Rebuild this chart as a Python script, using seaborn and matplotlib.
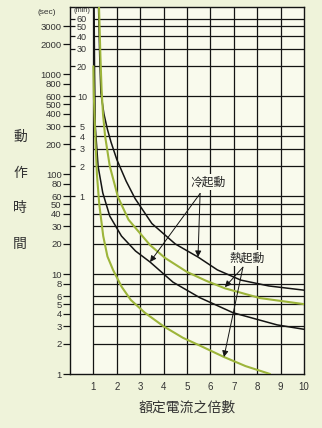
import matplotlib
matplotlib.use("Agg")
import matplotlib.pyplot as plt
from matplotlib.ticker import NullLocator, FixedLocator, FixedFormatter
import numpy as np
import pandas as pd
import seaborn as sns

# Overload relay trip curves: current multiple vs operating time (seconds)
cold_upper_x = [1.22, 1.27, 1.32, 1.45, 1.6, 1.75, 2.0, 2.4, 2.78, 3.5, 4.5, 5.47, 6.3, 7.3, 8.5, 10.0]
cold_upper_t = [4700, 1500, 650, 400, 280, 210, 140, 85, 57, 32, 20, 14.8, 11.0, 8.7, 7.6, 6.9]

hot_upper_x = [1.24, 1.3, 1.35, 1.41, 1.5, 1.7, 2.05, 2.5, 3.42, 4.06, 5.0, 5.8, 6.62, 8.12, 10.0]
hot_upper_t = [4700, 1500, 700, 400, 240, 120, 59, 35, 19.5, 14.5, 10.5, 8.6, 7.2, 5.75, 5.0]

cold_lower_x = [1.03, 1.05, 1.08, 1.2, 1.4, 1.7, 2.2, 2.8, 3.42, 4.4, 5.55, 6.97, 8.85, 10.0]
cold_lower_t = [4700, 1000, 300, 120, 65, 38, 24, 17, 13.2, 8.3, 5.8, 4.1, 3.1, 2.8]

hot_lower_x = [1.0, 1.02, 1.07, 1.15, 1.25, 1.42, 1.6, 1.84, 2.2, 2.6, 3.2, 4.0, 4.83, 5.6, 6.58, 7.5, 8.55]
hot_lower_t = [1200, 600, 275, 100, 50, 24, 15, 11, 7.5, 5.5, 4.1, 3.0, 2.3, 1.9, 1.48, 1.2, 1.0]

# Axis ticks
x_ticks = [1, 2, 3, 4, 5, 6, 7, 8, 9, 10]
sec_ticks = [1, 2, 3, 4, 5, 6, 8, 10, 20, 30, 40, 50, 60, 80, 100, 200, 300,
             400, 500, 600, 800, 1000, 2000, 3000]
min_ticks = [1, 2, 3, 4, 5, 10, 20, 30, 40, 50, 60]
sec_grid = [2, 3, 4, 5, 6, 8, 10, 20, 30, 40, 50]

BLACK = "#141414"
GREEN = "#9db53a"
FIG_BG = "#eff3da"
AX_BG = "#f9faed"

sns.set_theme(style="white")
plt.rcParams['font.family'] = ['Liberation Sans', 'DejaVu Sans']
CJK = ['Noto Sans CJK TC', 'DejaVu Sans']

frames = []
for name, xs, ts in [("cold_upper", cold_upper_x, cold_upper_t),
                     ("hot_upper", hot_upper_x, hot_upper_t),
                     ("cold_lower", cold_lower_x, cold_lower_t),
                     ("hot_lower", hot_lower_x, hot_lower_t)]:
    frames.append(pd.DataFrame({"curve": name, "x": xs, "t": ts}))
df = pd.concat(frames, ignore_index=True)

fig = plt.figure(figsize=(3.22, 4.28), dpi=100, facecolor=FIG_BG)
ax = fig.add_axes([70 / 322, 1 - 374 / 428, 234 / 322, 367 / 428])
ax.set_facecolor(AX_BG)
ax.set_yscale("log")
ax.set_xlim(0, 10)
ax.set_ylim(1, 4700)

# grid: vertical lines at each current multiple, horizontal at minute/second marks
for xv in x_ticks[:-1]:
    ax.axvline(xv, color=BLACK, lw=0.9, zorder=1)
for mv in min_ticks:
    ax.hlines(mv * 60, 1, 10, color=BLACK, lw=0.9, zorder=1)
for sv in sec_grid:
    ax.hlines(sv, 1, 10, color=BLACK, lw=0.9, zorder=1)

palette = {"cold_upper": BLACK, "cold_lower": BLACK,
           "hot_upper": GREEN, "hot_lower": GREEN}
sizes = {"cold_upper": 1.1, "cold_lower": 1.1, "hot_upper": 1.5, "hot_lower": 1.5}
sns.lineplot(data=df, x="x", y="t", hue="curve", size="curve", sizes=sizes,
             palette=palette, sort=False, estimator=None, units="curve",
             legend=False, ax=ax, zorder=3)

for s in ax.spines.values():
    s.set_color(BLACK)
    s.set_linewidth(1.0)
    s.set_visible(True)

# seconds scale on the outside of the left axis
ax.yaxis.set_major_locator(FixedLocator(sec_ticks))
ax.yaxis.set_major_formatter(FixedFormatter([str(v) for v in sec_ticks]))
ax.yaxis.set_minor_locator(NullLocator())
ax.tick_params(axis="y", which="major", direction="out", length=5, width=0.9,
               color=BLACK, pad=1, labelsize=6.8, labelcolor="#333333", left=True)

ax.set_xticks(x_ticks)
ax.set_xticklabels([str(v) for v in x_ticks])
ax.xaxis.set_minor_locator(NullLocator())
ax.tick_params(axis="x", length=0, pad=6, labelsize=7, labelcolor="#333333")
ax.set_xlabel("")
ax.set_ylabel("")

# minutes scale on the inside of the left axis
sec_ax = ax.secondary_yaxis("left", functions=(lambda s: s / 60.0, lambda m: m * 60.0))
sec_ax.yaxis.set_major_locator(FixedLocator(min_ticks))
sec_ax.yaxis.set_major_formatter(FixedFormatter([str(v) for v in min_ticks]))
sec_ax.yaxis.set_minor_locator(NullLocator())
sec_ax.tick_params(axis="y", direction="in", length=3.5, width=0.9, color=BLACK,
                   pad=-8.6, labelsize=6.5, labelcolor="#333333")
for lab in sec_ax.get_yticklabels():
    lab.set_horizontalalignment("center")
sec_ax.spines["left"].set_visible(False)

ax.text(0.053, 0.999, "(min)", transform=ax.transAxes, ha="center", va="top",
        fontsize=5.3, color="#333333")
fig.text(47 / 322, 1 - 13 / 428, "(sec)", ha="center", va="center",
         fontsize=6, color="#333333")

# axis titles
fig.text(187 / 322, 1 - 408 / 428, "額定電流之倍數", ha="center", va="center",
         fontsize=10, color="#333333", family=CJK)
for ch, yp in zip("動作時間", [137, 173, 208, 244]):
    fig.text(20 / 322, 1 - yp / 428, ch, ha="center", va="center",
             fontsize=10, color="#333333", family=CJK)

# curve annotations
arrow = dict(arrowstyle="-|>", color=BLACK, lw=0.7, mutation_scale=9,
             shrinkA=0, shrinkB=0)
ax.annotate("", xy=(3.42, 13.2), xytext=(5.56, 64), arrowprops=arrow, zorder=5)
ax.annotate("", xy=(5.47, 14.8), xytext=(5.56, 64), arrowprops=arrow, zorder=5)
ax.text(5.9, 83, "冷起動", ha="center", va="center", fontsize=8.5, color="#222222",
        family=CJK, zorder=6,
        bbox=dict(facecolor=AX_BG, edgecolor="none", pad=1.2))

ax.annotate("", xy=(6.62, 7.4), xytext=(7.39, 11.7), arrowprops=arrow, zorder=5)
ax.annotate("", xy=(6.58, 1.48), xytext=(7.39, 11.7), arrowprops=arrow, zorder=5)
ax.text(7.56, 14.5, "熱起動", ha="center", va="center", fontsize=8.5, color="#222222",
        family=CJK, zorder=6,
        bbox=dict(facecolor=AX_BG, edgecolor="none", pad=1.2))

fig.savefig("out.png", dpi=100, facecolor=FIG_BG)
